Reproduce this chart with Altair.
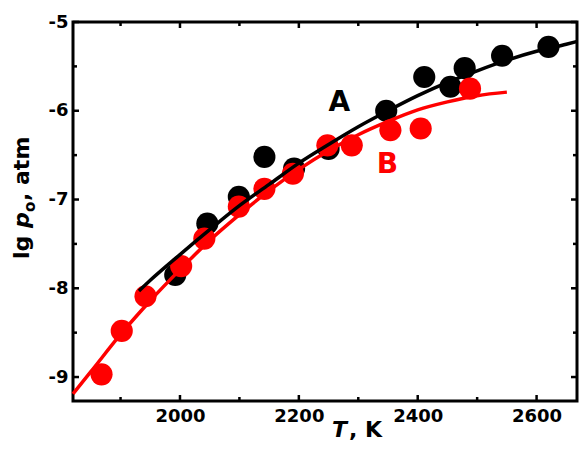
import altair as alt
import pandas as pd

# ---- data ----
black_T = [1992, 2046, 2099, 2142, 2192, 2250, 2347, 2411, 2455, 2479, 2542, 2620]
black_lg = [-7.85, -7.27, -6.97, -6.52, -6.65, -6.43, -6.00, -5.62, -5.73, -5.52, -5.38, -5.28]

red_T = [1868, 1902, 1942, 2002, 2041, 2099, 2142, 2190, 2248, 2289, 2354, 2405, 2488]
red_lg = [-8.97, -8.48, -8.09, -7.75, -7.44, -7.08, -6.88, -6.71, -6.39, -6.39, -6.22, -6.20, -5.75]

curveA_T = [1931, 1950, 2000, 2050, 2100, 2150, 2200, 2250, 2300, 2350, 2400, 2450, 2500, 2550, 2600, 2650, 2668]
curveA_lg = [-8.03, -7.91, -7.62, -7.34, -7.07, -6.83, -6.59, -6.38, -6.18, -6.00, -5.83, -5.68, -5.55, -5.43, -5.33, -5.25, -5.22]

curveB_T = [1820, 1850, 1900, 1950, 2000, 2050, 2100, 2150, 2200, 2250, 2300, 2350, 2400, 2450, 2500, 2550]
curveB_lg = [-9.19, -8.94, -8.52, -8.14, -7.79, -7.46, -7.17, -6.90, -6.66, -6.45, -6.27, -6.12, -5.99, -5.90, -5.83, -5.79]

label_text = ["A", "B"]
label_T = [2268, 2349]
label_lg = [-5.91, -6.61]
label_color = ["#000000", "#ff0000"]

x_major = [2000, 2200, 2400, 2600]
x_minor = [1900, 2100, 2300, 2500]
y_major = [-9, -8, -7, -6, -5]
y_minor = [-8.5, -7.5, -6.5, -5.5]

W, H = 504, 379
FONT = "DejaVu Sans"

xs = alt.Scale(domain=[1820, 2668], nice=False, zero=False)
ys = alt.Scale(domain=[-9.27, -5], nice=False, zero=False)

x_axis = alt.Axis(values=x_major, labelExpr="'' + datum.value", title=None, grid=False,
                  ticks=False, domain=False, labelPadding=6, labelFont=FONT,
                  labelFontSize=18, labelFontWeight="bold", labelColor="black")
y_axis = alt.Axis(values=y_major, labelExpr="'' + datum.value", title=None, grid=False,
                  ticks=False, domain=False, labelPadding=5, labelFont=FONT,
                  labelFontSize=18, labelFontWeight="bold", labelColor="black")


def X(field="T:Q"):
    return alt.X(field, scale=xs, axis=x_axis)


def Y(field="lg:Q"):
    return alt.Y(field, scale=ys, axis=y_axis)


df_a = pd.DataFrame({"T": black_T, "lg": black_lg})
df_b = pd.DataFrame({"T": red_T, "lg": red_lg})
df_ca = pd.DataFrame({"T": curveA_T, "lg": curveA_lg})
df_cb = pd.DataFrame({"T": curveB_T, "lg": curveB_lg})
df_lab = pd.DataFrame({"t": label_text, "T": label_T, "lg": label_lg, "c": label_color})

pts_a = alt.Chart(df_a).mark_circle(size=490, opacity=1, color="#000000").encode(x=X(), y=Y())
pts_b = alt.Chart(df_b).mark_circle(size=490, opacity=1, color="#ff0000").encode(x=X(), y=Y())
line_b = alt.Chart(df_cb).mark_line(color="#ff0000", strokeWidth=3.5, interpolate="monotone").encode(
    x=X(), y=Y())
line_a = alt.Chart(df_ca).mark_line(color="#000000", strokeWidth=3.5, interpolate="monotone").encode(
    x=X(), y=Y())
labels = alt.Chart(df_lab).mark_text(font=FONT, fontSize=28, fontWeight="bold",
                                     align="center", baseline="middle").encode(
    x=X(), y=Y(), text="t:N", color=alt.Color("c:N", scale=None))


def yticks(vals, length, right):
    d = pd.DataFrame({"lg": vals})
    if right:
        xa, xb = W - length, W
    else:
        xa, xb = 0, length
    return alt.Chart(d).mark_rule(color="black", strokeWidth=2.5).encode(
        y=Y(), x=alt.value(xa), x2=alt.value(xb))


def xticks(vals, length, top):
    d = pd.DataFrame({"T": vals})
    if top:
        ya, yb = 0, length
    else:
        ya, yb = H - length, H
    return alt.Chart(d).mark_rule(color="black", strokeWidth=2.5).encode(
        x=X(), y=alt.value(ya), y2=alt.value(yb))


ticks = [
    yticks(y_major, 6, False), yticks(y_minor, 4, False),
    yticks(y_major, 6, True), yticks(y_minor, 4, True),
    xticks(x_major, 6, False), xticks(x_minor, 4, False),
    xticks(x_major, 6, True), xticks(x_minor, 4, True),
]

one = alt.Data(values=[{}])


def txt(s, x, y, size=22, style="normal", angle=0):
    return alt.Chart(one).mark_text(text=s, font=FONT, fontSize=size, fontWeight="bold",
                                    fontStyle=style, align="left", baseline="alphabetic",
                                    angle=angle, color="black").encode(
        x=alt.value(x), y=alt.value(y))


titles = [
    txt("lg", -44, 237, angle=270),
    txt("p", -44, 206, style="italic", angle=270),
    txt("o", -38, 190, size=15, angle=270),
    txt(", atm", -44, 179, angle=270),
    txt("T", 259, 415, style="italic"),
    txt(", K", 276, 415),
]

chart = alt.layer(pts_a, pts_b, line_b, line_a, labels, *ticks, *titles).properties(
    width=W, height=H,
    padding={"left": 65, "top": 14, "right": 2, "bottom": 41},
    autosize=alt.AutoSizeParams(type="none"),
    background="white",
).configure_view(stroke="black", strokeWidth=3)

chart.save("out.html", embed_options={"renderer": "svg", "actions": False})
